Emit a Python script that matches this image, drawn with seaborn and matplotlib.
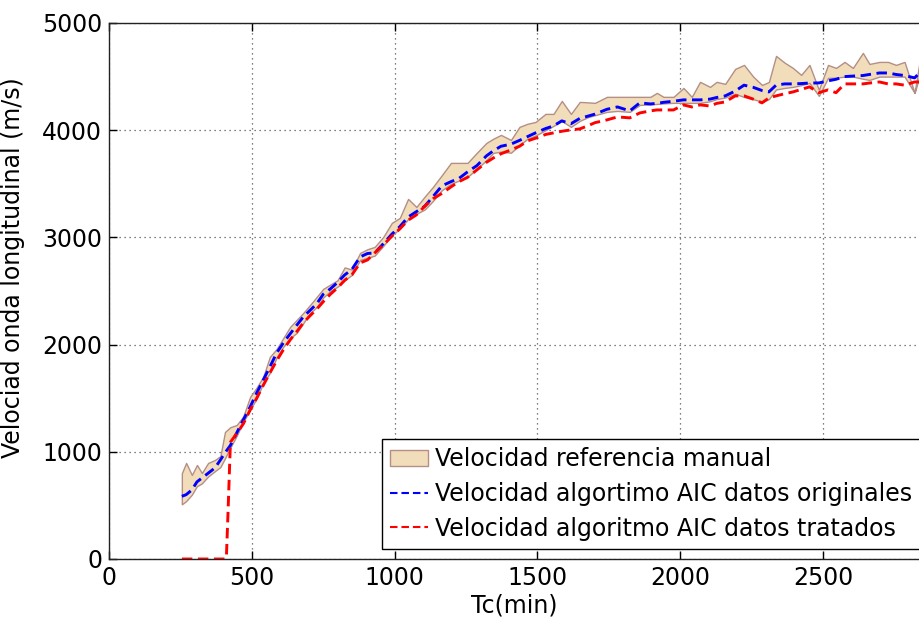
import matplotlib
matplotlib.use("Agg")
import matplotlib.pyplot as plt
from matplotlib.patches import Patch
from matplotlib.lines import Line2D
import seaborn as sns
import pandas as pd

# Sample times (min)
time = [255, 270, 290, 308, 325, 347, 371, 390, 406, 425, 447, 470, 494, 517,
        540, 563, 587, 610, 634, 657, 680, 704, 727, 750, 775, 800, 825, 850,
        879, 905, 930, 960, 990, 1018, 1047, 1076, 1105, 1134, 1165, 1197, 1225,
        1255, 1288, 1321, 1345, 1372, 1407, 1437, 1465, 1493, 1528, 1556, 1585,
        1617, 1648, 1675, 1701, 1743, 1780, 1823, 1858, 1895, 1918, 1941, 1976,
        2011, 2040, 2069, 2104, 2127, 2157, 2192, 2223, 2255, 2286, 2310, 2335,
        2365, 2394, 2423, 2452, 2485, 2517, 2545, 2575, 2604, 2639, 2662, 2697,
        2727, 2755, 2785, 2820, 2837, 2860]

# Manual reference band (upper / lower limits, m/s)
manual_upper = [800, 896, 784, 877, 802, 896, 924, 960, 1185, 1230, 1250, 1330,
                1512, 1600, 1700, 1885, 1960, 2060, 2165, 2230, 2295, 2370, 2444,
                2520, 2560, 2600, 2720, 2700, 2855, 2890, 2911, 3004, 3135, 3182,
                3359, 3284, 3380, 3471, 3580, 3695, 3695, 3695, 3790, 3881, 3920,
                3956, 3909, 4031, 4060, 4077, 4152, 4152, 4273, 4152, 4264, 4260,
                4255, 4311, 4311, 4311, 4311, 4311, 4348, 4311, 4311, 4394, 4311,
                4451, 4404, 4451, 4432, 4572, 4609, 4500, 4422, 4450, 4693, 4630,
                4581, 4516, 4609, 4376, 4609, 4581, 4637, 4581, 4721, 4618, 4637,
                4637, 4609, 4637, 4348, 4628, 4650]
manual_lower = [510, 540, 600, 680, 705, 770, 820, 858, 940, 1040, 1150, 1280,
                1390, 1500, 1640, 1735, 1880, 1980, 2060, 2109, 2200, 2295, 2350,
                2440, 2500, 2540, 2600, 2650, 2790, 2810, 2830, 2920, 3020, 3080,
                3170, 3220, 3260, 3340, 3440, 3500, 3530, 3564, 3640, 3720, 3788,
                3800, 3790, 3860, 3920, 3950, 4000, 4040, 4087, 4031, 4087, 4120,
                4140, 4171, 4180, 4171, 4236, 4240, 4245, 4250, 4255, 4255, 4255,
                4255, 4270, 4290, 4305, 4340, 4310, 4290, 4264, 4290, 4380, 4394,
                4404, 4420, 4441, 4320, 4488, 4490, 4500, 4500, 4480, 4469, 4500,
                4500, 4500, 4500, 4348, 4500, 4510]

# AIC picks on the original records (m/s)
aic_original = [585, 600, 644, 720, 755, 800, 850, 924, 990, 1060, 1176, 1297,
                1418, 1549, 1670, 1791, 1922, 2015, 2100, 2180, 2258, 2320, 2380,
                2470, 2520, 2580, 2650, 2700, 2818, 2850, 2855, 2940, 3030, 3100,
                3190, 3240, 3290, 3380, 3480, 3520, 3550, 3611, 3670, 3760, 3807,
                3850, 3870, 3905, 3940, 3975, 4015, 4040, 4087, 4060, 4110, 4130,
                4150, 4195, 4217, 4180, 4255, 4245, 4250, 4260, 4270, 4283, 4283,
                4283, 4290, 4305, 4320, 4365, 4420, 4400, 4370, 4357, 4420, 4432,
                4432, 4435, 4440, 4441, 4460, 4475, 4500, 4505, 4510, 4520, 4534,
                4534, 4520, 4510, 4488, 4534, 4550]

# AIC picks on the processed records (m/s)
time_processed = [255, 270, 290, 308, 325, 347, 371, 390, 406, 411, 417, 425, 447,
                  470, 494, 517, 540, 563, 587, 610, 634, 657, 680, 704, 727, 750,
                  775, 800, 825, 850, 879, 905, 930, 960, 990, 1018, 1047, 1076,
                  1105, 1134, 1165, 1197, 1225, 1255, 1288, 1321, 1345, 1372, 1407,
                  1437, 1465, 1493, 1528, 1556, 1585, 1617, 1648, 1675, 1701, 1743,
                  1780, 1823, 1858, 1895, 1918, 1941, 1976, 2011, 2040, 2069, 2104,
                  2127, 2157, 2192, 2223, 2255, 2286, 2310, 2335, 2365, 2394, 2423,
                  2452, 2485, 2517, 2545, 2575, 2604, 2639, 2662, 2697, 2727, 2755,
                  2785, 2820, 2837, 2860]
aic_processed = [0, 0, 0, 0, 0, 0, 0, 0, 0, 20, 460, 1090, 1170, 1260, 1390, 1500,
                 1620, 1735, 1850, 1950, 2043, 2120, 2202, 2270, 2330, 2400, 2470,
                 2530, 2600, 2650, 2762, 2790, 2855, 2930, 3010, 3080, 3160, 3210,
                 3290, 3360, 3410, 3471, 3520, 3560, 3630, 3700, 3740, 3780, 3816,
                 3850, 3900, 3925, 3960, 3975, 3990, 4003, 4012, 4040, 4070, 4096,
                 4124, 4115, 4161, 4180, 4189, 4189, 4189, 4236, 4217, 4236, 4226,
                 4250, 4264, 4320, 4320, 4290, 4255, 4301, 4320, 4340, 4357, 4380,
                 4404, 4350, 4376, 4350, 4432, 4432, 4432, 4440, 4450, 4432, 4432,
                 4420, 4450, 4450, 4460]

x_ticks = [0, 500, 1000, 1500, 2000, 2500]
y_ticks = [0, 1000, 2000, 3000, 4000, 5000]

label_band = "Velocidad referencia manual"
label_orig = "Velocidad algortimo AIC datos originales"
label_proc = "Velocidad algoritmo AIC datos tratados"

band_face = "#F2DDBB"
band_edge = "#B38F86"
dash = (0, (3.6, 1.9))

sns.set_style("ticks")
plt.rcParams["font.family"] = ["DejaVu Sans"]
plt.rcParams["text.color"] = "black"
plt.rcParams["axes.labelcolor"] = "black"

fig = plt.figure(figsize=(9.2, 6.19), dpi=100)
# axes run on past the right border of the figure
ax = fig.add_axes([109 / 920, 60 / 619, 857 / 920, 536 / 619])

ax.fill_between(time, manual_lower, manual_upper, facecolor=band_face,
                edgecolor=band_edge, linewidth=1.0, zorder=2)

df_orig = pd.DataFrame({"t": time, "v": aic_original})
df_proc = pd.DataFrame({"t": time_processed, "v": aic_processed})
sns.lineplot(data=df_orig, x="t", y="v", ax=ax, color="#0000FF", lw=2.1,
             dashes=False, zorder=3)
sns.lineplot(data=df_proc, x="t", y="v", ax=ax, color="#FF0000", lw=2.1,
             dashes=False, zorder=3)
for ln in ax.get_lines():
    ln.set_linestyle(dash)

ax.set_xlim(0, 3000)
ax.set_ylim(0, 5000)
ax.set_xticks(x_ticks)
ax.set_yticks(y_ticks)
ax.tick_params(direction="in", length=6, width=1, labelsize=17, colors="black",
               top=True, right=True, pad=5)
ax.grid(True, linestyle=(0, (1, 3)), color="#555555", linewidth=0.9)
for sp in ax.spines.values():
    sp.set_color("#222222")
    sp.set_linewidth(1.0)

ax.set_xlabel("Tc(min)", fontsize=17, color="black")
ax.set_ylabel("Velociad onda longitudinal (m/s)", fontsize=17, color="black")
ax.xaxis.set_label_coords((514 - 109) / 857, -0.065)
ax.yaxis.set_label_coords(-0.098, (559 - 268) / 536)

handles = [
    Patch(facecolor=band_face, edgecolor=band_edge, linewidth=1.0),
    Line2D([], [], color="#0000FF", lw=1.5, linestyle=dash),
    Line2D([], [], color="#FF0000", lw=1.5, linestyle=dash),
]
leg = ax.legend(handles, [label_band, label_orig, label_proc],
                loc="upper left", bbox_to_anchor=((382 - 109) / 857, (559 - 439) / 536),
                borderaxespad=0, fontsize=17, frameon=True, fancybox=False,
                framealpha=1, edgecolor="black", handlelength=1.6,
                handletextpad=0.3, borderpad=0.35, labelspacing=0.45)
leg.get_frame().set_linewidth(1.0)
for txt in leg.get_texts():
    txt.set_color("black")

fig.savefig("out.png", dpi=100)
